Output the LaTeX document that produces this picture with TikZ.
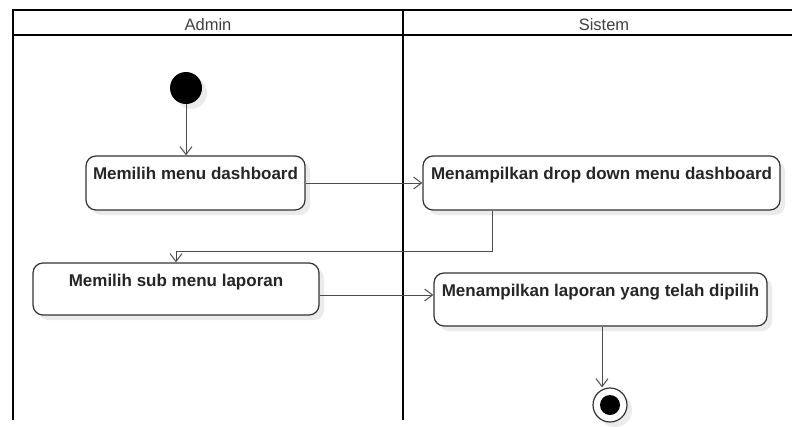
\documentclass[tikz,border=0pt]{standalone}
\usepackage{fontspec}
\setmainfont{Liberation Sans}
\usetikzlibrary{arrows.meta,shadows,calc}
\begin{document}
\begin{tikzpicture}[x=1pt,y=-1pt,
  lane/.style={line width=2pt, black},
  lanetitle/.style={anchor=base, inner sep=0pt, font=\fontsize{16.5}{18}\selectfont, text=black!75},
  softshadow/.style={drop shadow={shadow xshift=5pt, shadow yshift=-5pt, fill=black!8, opacity=1}},
  action/.style={draw=black!80, line width=1.2pt, rounded corners=10pt, fill=white,
    inner xsep=0pt, inner ysep=0pt, text height=23pt,
    font=\bfseries\fontsize{17}{19}\selectfont, text=black!85, softshadow},
  flow/.style={draw=black!70, line width=1pt, -{Straight Barb[length=8pt,width=12pt]}},
]
\useasboundingbox (0,0) rectangle (792,426);

% swimlane frame
\draw[lane] (12.5,420) -- (12.5,9.5) -- (793,9.5);
\draw[lane] (12.5,35) -- (793,35);
\draw[lane] (403,9.5) -- (403,420);
\node[lanetitle] (admin) at (208,30) {Admin};
\node[lanetitle] (sistem) at (604,30) {Sistem};

% start and end
\node[circle, fill=black, minimum size=32pt, inner sep=0pt, softshadow] (start) at (186,88) {};
\node[circle, draw=black!80, line width=1.2pt, fill=white, minimum size=34pt, inner sep=0pt, softshadow,
  path picture={\fill[black] (path picture bounding box.center) circle (10pt);}] (final) at (610,405) {};

% actions
\node[action, minimum width=219pt, text depth=31pt] (pilihmenu) at (195.5,183) {Memilih menu dashboard};
\node[action, minimum width=357pt, text depth=31pt] (dropdown) at (601.5,183) {Menampilkan drop down menu dashboard};
\node[action, minimum width=286pt, text depth=29pt] (pilihsub) at (176,289) {Memilih sub menu laporan};
\node[action, minimum width=333pt, text depth=30pt] (laporan) at (600.5,299.5) {Menampilkan laporan yang telah dipilih};

% control flow
\draw[flow] (start) -- (start |- pilihmenu.north);
\draw[flow] (pilihmenu) -- (dropdown);
\draw[flow] ([xshift=70pt]dropdown.south west) |- ($(pilihsub.north)+(0,-11)$) -- (pilihsub.north);
\draw[flow] ([yshift=-6pt]pilihsub.east) -- ([yshift=-6pt]pilihsub.east -| laporan.west);
\draw[flow] ([xshift=1.5pt]laporan.south) -- ([xshift=1.5pt]laporan.south |- final.north);
\end{tikzpicture}
\end{document}
